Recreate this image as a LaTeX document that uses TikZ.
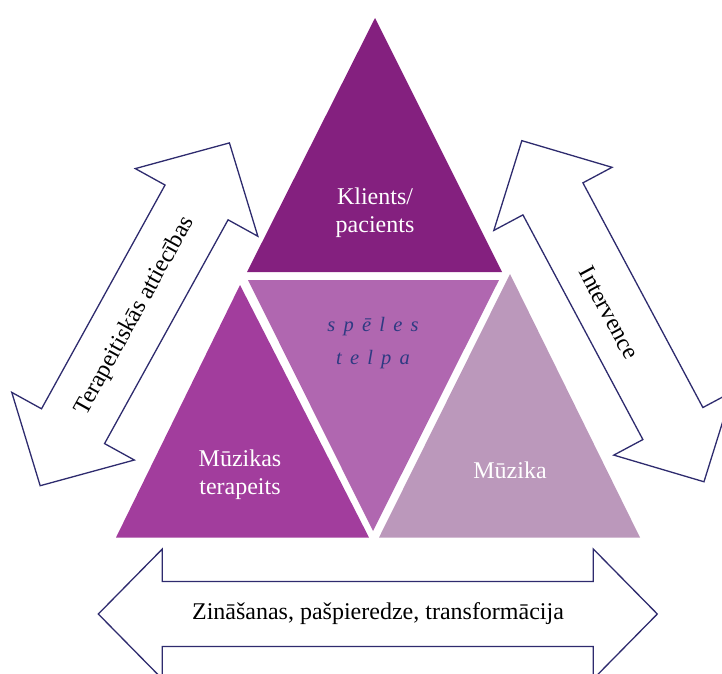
\documentclass[tikz,border=0pt]{standalone}
\usepackage{fontspec}
\setmainfont{Liberation Serif}
\definecolor{arrowline}{RGB}{46,43,110}
\definecolor{topfill}{RGB}{132,32,127}
\definecolor{midfill}{RGB}{176,103,176}
\definecolor{leftfill}{RGB}{162,61,157}
\definecolor{rightfill}{RGB}{187,152,187}
\definecolor{spacetext}{RGB}{46,58,130}
\tikzset{
  blockarrow/.style={draw=arrowline, line width=1.3pt, fill=white, line join=miter},
  trilabel/.style={font=\fontsize{24}{28}\selectfont, align=center, text=white},
  arrowtext/.style={font=\fontsize{24}{28}\selectfont, text=black},
  spacelabel/.style={font=\fontsize{20.5}{33}\selectfont\itshape\addfontfeatures{LetterSpace=40}, align=center, text=spacetext},
}
% double-headed block arrow along the local x axis:
% #1 total length, #2 head length, #3 head half-width, #4 shaft half-width
\newcommand\dblarrow[4]{%
  \draw[blockarrow] (-#1/2,0) -- (-#1/2+#2,#3) -- (-#1/2+#2,#4) -- (#1/2-#2,#4)
    -- (#1/2-#2,#3) -- (#1/2,0) -- (#1/2-#2,-#3) -- (#1/2-#2,-#4)
    -- (-#1/2+#2,-#4) -- (-#1/2+#2,-#3) -- cycle;}
\begin{document}
\begin{tikzpicture}[x=1pt,y=-1pt]
\useasboundingbox (0,0) rectangle (722,673);

% arrows
\begin{scope}[shift={(134.8,314.3)}, rotate=61.1]
  \dblarrow{391.6}{68}{70}{36}
\end{scope}
\begin{scope}[shift={(612.9,311.2)}, rotate=-61.9]
  \dblarrow{386.7}{66}{67}{34}
\end{scope}
\begin{scope}[shift={(377.8,614)}]
  \dblarrow{559}{64}{65}{32.5}
\end{scope}

% triangles
\fill[topfill] (375,18) -- (502,272) -- (247,272) -- cycle;
\fill[midfill] (248,280) -- (499,280) -- (373,531) -- cycle;
\fill[leftfill] (240,285) -- (369,537.5) -- (116,537.5) -- cycle;
\fill[rightfill] (510,274) -- (640,537.5) -- (379,537.5) -- cycle;

% labels
\node[trilabel] (client) at (375,213) {Klients/\\pacients};
\node[trilabel] (therapist) at (240,475) {Mūzikas\\terapeits};
\node[trilabel] (music) at (510,470) {Mūzika};
\node[spacelabel] (play) at (373,343) {spēles\\telpa};
\node[arrowtext, rotate=61.1] (relation) at (135,316) {Terapeitiskās attiecības};
\node[arrowtext, rotate=-61.9] (intervention) at (609,313) {Intervence};
\node[arrowtext] (knowledge) at (378,614) {Zināšanas, pašpieredze, transformācija};
\end{tikzpicture}
\end{document}
